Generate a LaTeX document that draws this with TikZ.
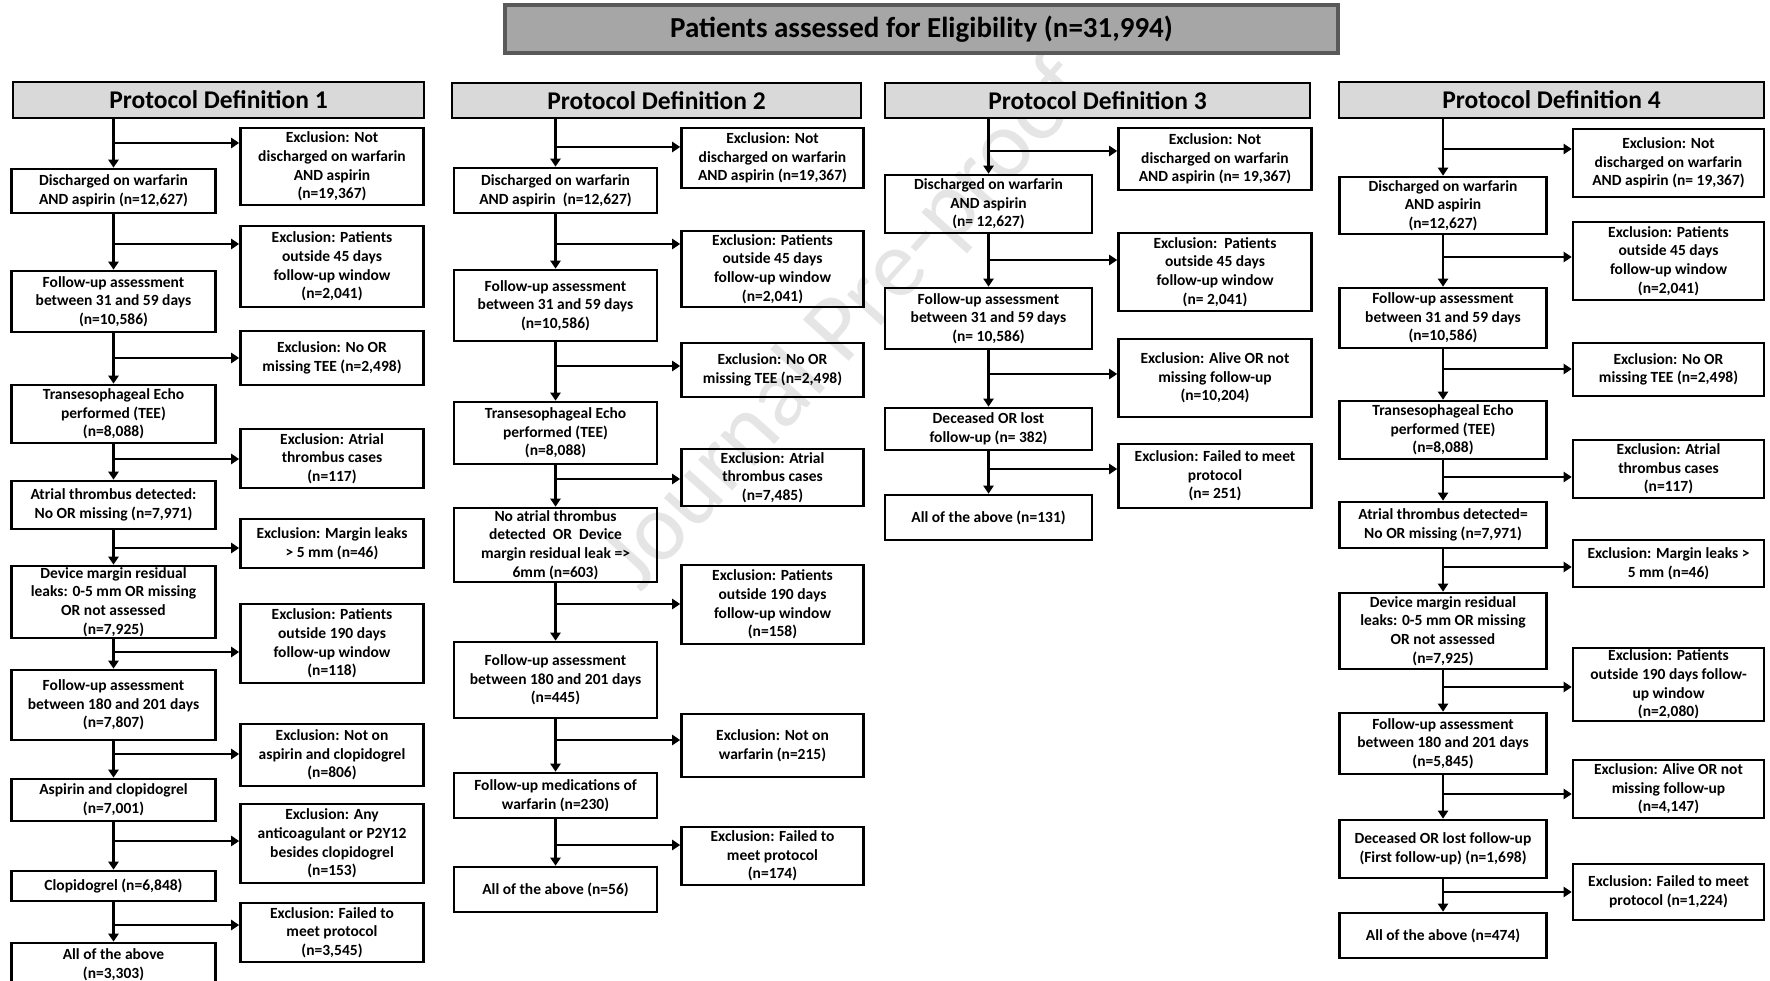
\documentclass[tikz,border=0pt]{standalone}
\usepackage{fontspec}
\setmainfont{Carlito}
\usetikzlibrary{arrows.meta, positioning}

\begin{document}
\begin{tikzpicture}[
  x=1pt, y=-1pt,
  line width=2.6pt,
  >={Triangle[length=8pt,width=10pt]},
  flowbox/.style={draw, rectangle, align=center, inner sep=0pt, font=\fontsize{15.5}{18.7}\selectfont\bfseries},
  mainbox/.style={flowbox},
  exclbox/.style={flowbox},
  protohead/.style={draw, rectangle, fill=black!15, inner sep=0pt, font=\fontsize{25.5}{30}\selectfont\bfseries},
  titlebox/.style={draw=black!65, line width=3.4pt, rectangle, fill=black!35, inner sep=0pt, font=\fontsize{29}{34}\selectfont\bfseries}
]
\useasboundingbox (0,0) rectangle (1770,981);

% watermark
\node[text=black!10, rotate=48, font=\fontsize{96}{110}\selectfont] (wm) at (848,325) {Journal Pre-proof};

\node[titlebox, minimum width=833pt, minimum height=48pt] (elig) at (921.5,29) {Patients assessed for Eligibility (n=31,994)};

% Protocol Definition 1
\node[protohead, minimum width=411pt, minimum height=36pt] (h1) at (218.5,100) {Protocol Definition 1};
\begin{scope}[mainbox/.append style={minimum width=204pt}, exclbox/.append style={minimum width=183pt}]
\node[mainbox, minimum height=44pt] (d1) at (113.5,191) {Discharged on warfarin\\AND aspirin (n=12,627)};
\node[mainbox, minimum height=61pt] (f1) at (113.5,301.5) {Follow-up assessment\\between 31 and 59 days\\(n=10,586)};
\node[mainbox, minimum height=58pt] (t1) at (113.5,414) {Transesophageal Echo\\performed (TEE)\\(n=8,088)};
\node[mainbox, minimum height=48pt] (a1) at (113.5,505) {Atrial thrombus detected:\\No OR missing (n=7,971)};
\node[mainbox, minimum height=72pt] (m1) at (113.5,602) {Device margin residual\\leaks: 0-5 mm OR missing\\OR not assessed\\(n=7,925)};
\node[mainbox, minimum height=70pt] (g1) at (113.5,705) {Follow-up assessment\\between 180 and 201 days\\(n=7,807)};
\node[mainbox, minimum height=42pt] (p1) at (113.5,800) {Aspirin and clopidogrel\\(n=7,001)};
\node[mainbox, minimum height=30pt] (c1) at (113.5,886) {Clopidogrel (n=6,848)};
\node[mainbox, minimum height=44pt] (all1) at (113.5,965) {All of the above\\(n=3,303)};
\node[exclbox, minimum height=77pt] (e1a) at (332,166.5) {Exclusion: Not\\discharged on warfarin\\AND aspirin\\(n=19,367)};
\node[exclbox, minimum height=81pt] (e1b) at (332,266.5) {Exclusion: Patients\\outside 45 days\\follow-up window\\(n=2,041)};
\node[exclbox, minimum height=54pt] (e1c) at (332,358) {Exclusion: No OR\\missing TEE (n=2,498)};
\node[exclbox, minimum height=59pt] (e1d) at (332,458.5) {Exclusion: Atrial\\thrombus cases\\(n=117)};
\node[exclbox, minimum height=49pt] (e1e) at (332,543.5) {Exclusion: Margin leaks\\> 5 mm (n=46)};
\node[exclbox, minimum height=79pt] (e1f) at (332,643.5) {Exclusion: Patients\\outside 190 days\\follow-up window\\(n=118)};
\node[exclbox, minimum height=62pt] (e1g) at (332,755) {Exclusion: Not on\\aspirin and clopidogrel\\(n=806)};
\node[exclbox, minimum height=79pt] (e1h) at (332,843.5) {Exclusion: Any\\anticoagulant or P2Y12\\besides clopidogrel\\(n=153)};
\node[exclbox, minimum height=59pt] (e1i) at (332,932.5) {Exclusion: Failed to\\meet protocol\\(n=3,545)};
\end{scope}

\draw[->] (d1.north |- h1.south) -- (d1.north);
\draw[->] (d1) -- (f1);
\draw[->] (f1) -- (t1);
\draw[->] (t1) -- (a1);
\draw[->] (a1) -- (m1);
\draw[->] (m1) -- (g1);
\draw[->] (g1) -- (p1);
\draw[->] (p1) -- (c1);
\draw[->] (c1) -- (all1);
\coordinate (b1a) at (113.5,143);
\coordinate (b1b) at (113.5,244);
\coordinate (b1c) at (113.5,358);
\coordinate (b1d) at (113.5,459);
\coordinate (b1e) at (113.5,548);
\coordinate (b1f) at (113.5,652);
\coordinate (b1g) at (113.5,754);
\coordinate (b1h) at (113.5,841);
\coordinate (b1i) at (113.5,925);
\draw[->] (b1a) -- (b1a -| e1a.west);
\draw[->] (b1b) -- (b1b -| e1b.west);
\draw[->] (b1c) -- (b1c -| e1c.west);
\draw[->] (b1d) -- (b1d -| e1d.west);
\draw[->] (b1e) -- (b1e -| e1e.west);
\draw[->] (b1f) -- (b1f -| e1f.west);
\draw[->] (b1g) -- (b1g -| e1g.west);
\draw[->] (b1h) -- (b1h -| e1h.west);
\draw[->] (b1i) -- (b1i -| e1i.west);

% Protocol Definition 2
\node[protohead, minimum width=409pt, minimum height=35pt] (h2) at (656.5,100.5) {Protocol Definition 2};
\begin{scope}[mainbox/.append style={minimum width=203pt}, exclbox/.append style={minimum width=182pt}]
\node[mainbox, minimum height=45pt] (d2) at (555.5,190.5) {Discharged on warfarin\\AND aspirin~~(n=12,627)};
\node[mainbox, minimum height=71pt] (f2) at (555.5,305.5) {Follow-up assessment\\between 31 and 59 days\\(n=10,586)};
\node[mainbox, minimum height=62pt] (t2) at (555.5,433) {Transesophageal Echo\\performed (TEE)\\(n=8,088)};
\node[mainbox, minimum height=74pt] (a2) at (555.5,545) {No atrial thrombus\\detected~~OR~~Device\\margin residual leak =>\\6mm (n=603)};
\node[mainbox, minimum height=76pt] (g2) at (555.5,680) {Follow-up assessment\\between 180 and 201 days\\(n=445)};
\node[mainbox, minimum height=45pt] (w2) at (555.5,795.5) {Follow-up medications of\\warfarin (n=230)};
\node[mainbox, minimum height=45pt] (all2) at (555.5,889.5) {All of the above (n=56)};
\node[exclbox, minimum height=60pt] (e2a) at (772.5,158) {Exclusion: Not\\discharged on warfarin\\AND aspirin (n=19,367)};
\node[exclbox, minimum height=76pt] (e2b) at (772.5,269) {Exclusion: Patients\\outside 45 days\\follow-up window\\(n=2,041)};
\node[exclbox, minimum height=54pt] (e2c) at (772.5,370) {Exclusion: No OR\\missing TEE (n=2,498)};
\node[exclbox, minimum height=57pt] (e2d) at (772.5,477.5) {Exclusion: Atrial\\thrombus cases\\(n=7,485)};
\node[exclbox, minimum height=79pt] (e2e) at (772.5,604.5) {Exclusion: Patients\\outside 190 days\\follow-up window\\(n=158)};
\node[exclbox, minimum height=63pt] (e2f) at (772.5,745.5) {Exclusion: Not on\\warfarin (n=215)};
\node[exclbox, minimum height=58pt] (e2g) at (772.5,856) {Exclusion: Failed to\\meet protocol\\(n=174)};
\end{scope}

\draw[->] (d2.north |- h2.south) -- (d2.north);
\draw[->] (d2) -- (f2);
\draw[->] (f2) -- (t2);
\draw[->] (t2) -- (a2);
\draw[->] (a2) -- (g2);
\draw[->] (g2) -- (w2);
\draw[->] (w2) -- (all2);
\coordinate (b2a) at (555.5,147);
\coordinate (b2b) at (555.5,244);
\coordinate (b2c) at (555.5,366);
\coordinate (b2d) at (555.5,479);
\coordinate (b2e) at (555.5,604);
\coordinate (b2f) at (555.5,740);
\coordinate (b2g) at (555.5,845);
\draw[->] (b2a) -- (b2a -| e2a.west);
\draw[->] (b2b) -- (b2b -| e2b.west);
\draw[->] (b2c) -- (b2c -| e2c.west);
\draw[->] (b2d) -- (b2d -| e2d.west);
\draw[->] (b2e) -- (b2e -| e2e.west);
\draw[->] (b2f) -- (b2f -| e2f.west);
\draw[->] (b2g) -- (b2g -| e2g.west);

% Protocol Definition 3
\node[protohead, minimum width=425pt, minimum height=35pt] (h3) at (1097.5,100.5) {Protocol Definition 3};
\begin{scope}[mainbox/.append style={minimum width=207pt}, exclbox/.append style={minimum width=193pt}]
\node[mainbox, minimum height=58pt] (d3) at (988.5,204) {Discharged on warfarin\\AND aspirin\\(n= 12,627)};
\node[mainbox, minimum height=61pt] (f3) at (988.5,318.5) {Follow-up assessment\\between 31 and 59 days\\(n= 10,586)};
\node[mainbox, minimum height=42pt] (k3) at (988.5,429) {Deceased OR lost\\follow-up (n= 382)};
\node[mainbox, minimum height=45pt] (all3) at (988.5,517.5) {All of the above (n=131)};
\node[exclbox, minimum height=62pt] (e3a) at (1215,159) {Exclusion: Not\\discharged on warfarin\\AND aspirin (n= 19,367)};
\node[exclbox, minimum height=78pt] (e3b) at (1215,272) {Exclusion:~~Patients\\outside 45 days\\follow-up window\\(n= 2,041)};
\node[exclbox, minimum height=78pt] (e3c) at (1215,378) {Exclusion: Alive OR not\\missing follow-up\\(n=10,204)};
\node[exclbox, minimum height=64pt] (e3d) at (1215,476) {Exclusion: Failed to meet\\protocol\\(n= 251)};
\end{scope}

\draw[->] (d3.north |- h3.south) -- (d3.north);
\draw[->] (d3) -- (f3);
\draw[->] (f3) -- (k3);
\draw[->] (k3) -- (all3);
\coordinate (b3a) at (988.5,151);
\coordinate (b3b) at (988.5,260);
\coordinate (b3c) at (988.5,374);
\coordinate (b3d) at (988.5,469);
\draw[->] (b3a) -- (b3a -| e3a.west);
\draw[->] (b3b) -- (b3b -| e3b.west);
\draw[->] (b3c) -- (b3c -| e3c.west);
\draw[->] (b3d) -- (b3d -| e3d.west);

% Protocol Definition 4
\node[protohead, minimum width=425pt, minimum height=36pt] (h4) at (1551.5,100) {Protocol Definition 4};
\begin{scope}[mainbox/.append style={minimum width=207pt}, exclbox/.append style={minimum width=191pt}]
\node[mainbox, minimum height=57pt] (d4) at (1443,205.5) {Discharged on warfarin\\AND aspirin\\(n=12,627)};
\node[mainbox, minimum height=60pt] (f4) at (1443,318) {Follow-up assessment\\between 31 and 59 days\\(n=10,586)};
\node[mainbox, minimum height=58pt] (t4) at (1443,430) {Transesophageal Echo\\performed (TEE)\\(n=8,088)};
\node[mainbox, minimum height=46pt] (a4) at (1443,525) {Atrial thrombus detected=\\No OR missing (n=7,971)};
\node[mainbox, minimum height=76pt] (m4) at (1443,631) {Device margin residual\\leaks: 0-5 mm OR missing\\OR not assessed\\(n=7,925)};
\node[mainbox, minimum height=61pt] (g4) at (1443,743.5) {Follow-up assessment\\between 180 and 201 days\\(n=5,845)};
\node[mainbox, minimum height=58pt] (k4) at (1443,849) {Deceased OR lost follow-up\\(First follow-up) (n=1,698)};
\node[mainbox, minimum height=45pt] (all4) at (1443,935.5) {All of the above (n=474)};
\node[exclbox, minimum height=68pt] (e4a) at (1668.5,163) {Exclusion: Not\\discharged on warfarin\\AND aspirin (n= 19,367)};
\node[exclbox, minimum height=78pt] (e4b) at (1668.5,261) {Exclusion: Patients\\outside 45 days\\follow-up window\\(n=2,041)};
\node[exclbox, minimum height=53pt] (e4c) at (1668.5,369.5) {Exclusion: No OR\\missing TEE (n=2,498)};
\node[exclbox, minimum height=58pt] (e4d) at (1668.5,469) {Exclusion: Atrial\\thrombus cases\\(n=117)};
\node[exclbox, minimum height=47pt] (e4e) at (1668.5,563.5) {Exclusion: Margin leaks >\\5 mm (n=46)};
\node[exclbox, minimum height=73pt] (e4f) at (1668.5,684.5) {Exclusion: Patients\\outside 190 days follow-\\up window\\(n=2,080)};
\node[exclbox, minimum height=58pt] (e4g) at (1668.5,789) {Exclusion: Alive OR not\\missing follow-up\\(n=4,147)};
\node[exclbox, minimum height=56pt] (e4h) at (1668.5,892) {Exclusion: Failed to meet\\protocol (n=1,224)};
\end{scope}

\draw[->] (d4.north |- h4.south) -- (d4.north);
\draw[->] (d4) -- (f4);
\draw[->] (f4) -- (t4);
\draw[->] (t4) -- (a4);
\draw[->] (a4) -- (m4);
\draw[->] (m4) -- (g4);
\draw[->] (g4) -- (k4);
\draw[->] (k4) -- (all4);
\coordinate (b4a) at (1443,149);
\coordinate (b4b) at (1443,257);
\coordinate (b4c) at (1443,369);
\coordinate (b4d) at (1443,477);
\coordinate (b4e) at (1443,567);
\coordinate (b4f) at (1443,687);
\coordinate (b4g) at (1443,794);
\coordinate (b4h) at (1443,892);
\draw[->] (b4a) -- (b4a -| e4a.west);
\draw[->] (b4b) -- (b4b -| e4b.west);
\draw[->] (b4c) -- (b4c -| e4c.west);
\draw[->] (b4d) -- (b4d -| e4d.west);
\draw[->] (b4e) -- (b4e -| e4e.west);
\draw[->] (b4f) -- (b4f -| e4f.west);
\draw[->] (b4g) -- (b4g -| e4g.west);
\draw[->] (b4h) -- (b4h -| e4h.west);
\end{tikzpicture}
\end{document}
